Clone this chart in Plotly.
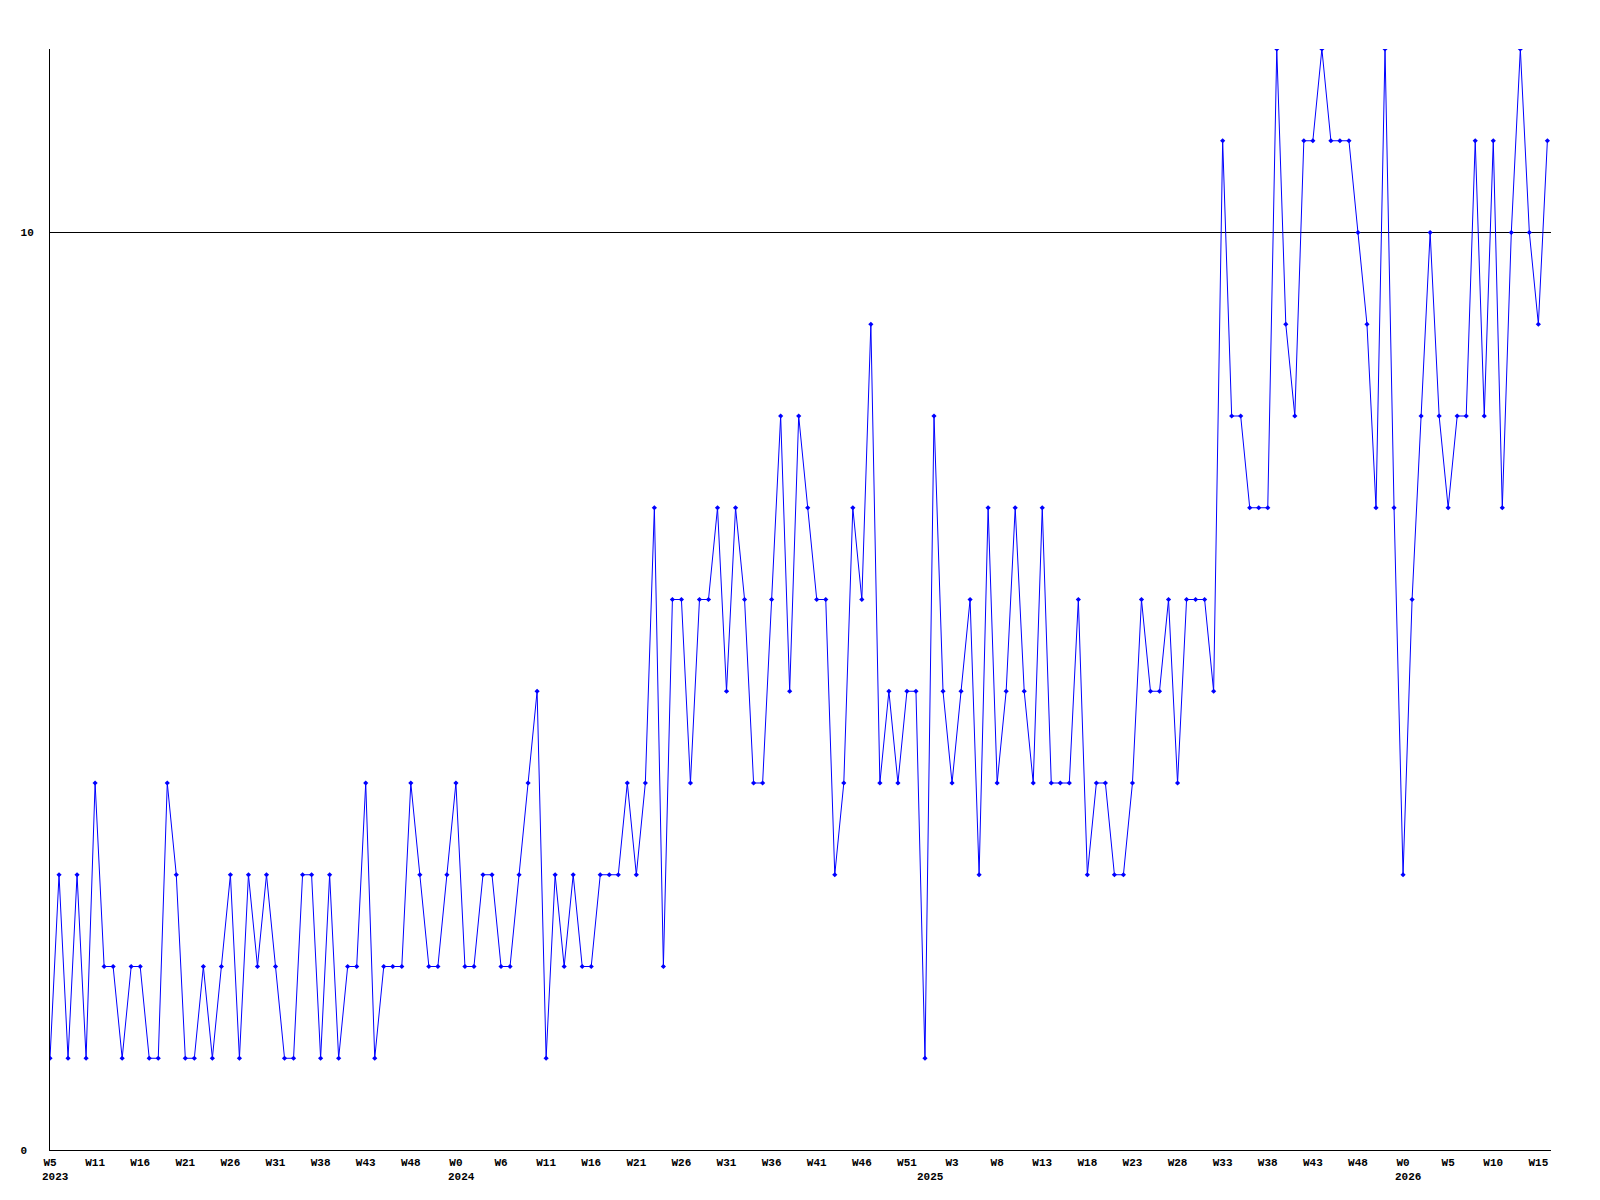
import plotly.graph_objects as go

# weekly counts, one per plotted week (2023 W5 .. 2026 W16)
values = [
    1, 3, 1, 3, 1, 4, 2, 2, 1, 2, 2, 1, 1, 4, 3, 1, 1, 2, 1, 2,
    3, 1, 3, 2, 3, 2, 1, 1, 3, 3, 1, 3, 1, 2, 2, 4, 1, 2, 2, 2,
    4, 3, 2, 2, 3, 4, 2, 2, 3, 3, 2, 2, 3, 4, 5, 1, 3, 2, 3, 2,
    2, 3, 3, 3, 4, 3, 4, 7, 2, 6, 6, 4, 6, 6, 7, 5, 7, 6, 4, 4,
    6, 8, 5, 8, 7, 6, 6, 3, 4, 7, 6, 9, 4, 5, 4, 5, 5, 1, 8, 5,
    4, 5, 6, 3, 7, 4, 5, 7, 5, 4, 7, 4, 4, 4, 6, 3, 4, 4, 3, 3,
    4, 6, 5, 5, 6, 4, 6, 6, 6, 5, 11, 8, 8, 7, 7, 7, 12, 9, 8, 11,
    11, 12, 11, 11, 11, 10, 9, 7, 12, 7, 3, 6, 8, 10, 8, 7, 8, 8, 11, 8,
    11, 7, 10, 12, 10, 9, 11,
]

# week labels shown under every 5th point
week_labels = [
    "W5", "W11", "W16", "W21", "W26", "W31", "W38", "W43", "W48",
    "W0", "W6", "W11", "W16", "W21", "W26", "W31", "W36", "W41", "W46", "W51",
    "W3", "W8", "W13", "W18", "W23", "W28", "W33", "W38", "W43", "W48",
    "W0", "W5", "W10", "W15",
]
label_step = 5

# year labels and the point index of the first week of each year
year_labels = ["2023", "2024", "2025", "2026"]
year_start_point = [0, 45, 97, 150]

y_ticks = [0, 10]

FONT = "Liberation Mono, DejaVu Sans Mono, monospace"

x = list(range(len(values)))

fig = go.Figure()
fig.add_trace(go.Scatter(
    x=x, y=values, mode="lines+markers",
    line=dict(color="#0000ff", width=1),
    marker=dict(symbol="diamond", size=4, color="#0000ff"),
    showlegend=False, hoverinfo="x+y",
))

tickvals = [i * label_step for i in range(len(week_labels))]

for lbl, idx in zip(year_labels, year_start_point):
    fig.add_annotation(
        x=idx, xref="x", y=0, yref="paper", yshift=-27,
        text=lbl, showarrow=False, xanchor="left", xshift=-10, yanchor="middle",
        font=dict(family=FONT, size=11, color="black", weight="bold"),
    )

# page body has an 8px margin, so the figure is sized to fit inside it
fig.update_layout(
    width=1584, height=1184,
    margin=dict(l=42, r=41, t=41, b=42),
    paper_bgcolor="white", plot_bgcolor="white",
    font=dict(family=FONT, size=11, color="black", weight="bold"),
    xaxis=dict(
        range=[0, 166.4], showgrid=False, zeroline=False,
        showline=True, linecolor="black", linewidth=1,
        tickvals=tickvals, ticktext=week_labels, ticks="",
        ticklabelstandoff=2,
        tickfont=dict(family=FONT, size=11, color="black", weight="bold"),
    ),
    yaxis=dict(
        range=[0, 12], showgrid=True, gridcolor="black", gridwidth=1,
        zeroline=False, showline=True, linecolor="black", linewidth=1,
        tickvals=y_ticks, ticktext=[str(v) + ("\u00a0" if v < 10 else "") for v in y_ticks],
        ticks="", ticklabelstandoff=13,
        tickfont=dict(family=FONT, size=11, color="black", weight="bold"),
    ),
)

fig.write_html("out.html")
